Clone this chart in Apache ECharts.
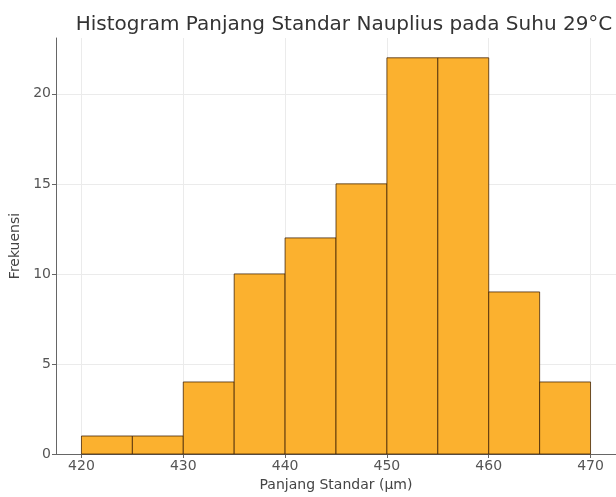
<!DOCTYPE html>
<html style="height: 100%">
<head>
	<meta charset="utf-8">
</head>
<body style="height: 100%; margin: 0; background: #fff">
<div id="container" style="width: 616px; height: 497px"></div>
<script type="text/javascript" src="https://cdn.jsdelivr.net/npm/echarts@6/dist/echarts.min.js"></script>
<script type="text/javascript">
    // bin edges (µm) and counts
    var binStarts = [420, 425, 430, 435, 440, 445, 450, 455, 460, 465];
    var binWidth = 5;
    var counts = [1, 1, 4, 10, 12, 15, 22, 22, 9, 4];
    var xTicks = [420, 430, 440, 450, 460, 470];
    var yTicks = [0, 5, 10, 15, 20];

    var data = binStarts.map(function (s, i) {
        return [s, s + binWidth, counts[i]];
    });

    var font = 'DejaVu Sans';
    var dom = document.getElementById("container");
    var myChart = echarts.init(dom);
    var option = {
        backgroundColor: '#fff',
        animation: false,
        title: {
            text: 'Histogram Panjang Standar Nauplius pada Suhu 29°C',
            left: 339,
            textAlign: 'center',
            top: 10,
            textStyle: {
                fontFamily: font,
                fontSize: 20,
                fontWeight: 'normal',
                color: '#333'
            }
        },
        grid: {
            left: 56,
            right: -5,
            top: 38,
            bottom: 38
        },
        xAxis: {
            type: 'value',
            min: 417.5,
            max: 472.5,
            name: 'Panjang Standar (µm)',
            nameLocation: 'middle',
            nameGap: 24,
            nameTextStyle: { fontFamily: font, fontSize: 14, color: '#444' },
            axisLine: { show: true, lineStyle: { color: '#666', width: 1 } },
            axisTick: { show: true, length: 4, customValues: xTicks, lineStyle: { color: '#666' } },
            axisLabel: { customValues: xTicks, fontFamily: font, fontSize: 14, color: '#555', margin: 5 },
            splitLine: { show: true, lineStyle: { color: '#ebebeb', width: 1 } }
        },
        yAxis: {
            type: 'value',
            min: 0,
            max: 23.1,
            name: 'Frekuensi',
            nameLocation: 'middle',
            nameGap: 30,
            nameTextStyle: { fontFamily: font, fontSize: 14, color: '#444' },
            axisLine: { show: true, lineStyle: { color: '#666', width: 1 } },
            axisTick: { show: true, length: 4, customValues: yTicks, lineStyle: { color: '#666' } },
            axisLabel: { customValues: yTicks, fontFamily: font, fontSize: 14, color: '#555', margin: 5 },
            splitLine: { show: true, lineStyle: { color: '#ebebeb', width: 1 } }
        },
        series: [{
            type: 'custom',
            data: data,
            encode: { x: [0, 1], y: 2 },
            renderItem: function (params, api) {
                var p0 = api.coord([api.value(0), api.value(2)]);
                var p1 = api.coord([api.value(1), 0]);
                return {
                    type: 'rect',
                    shape: { x: p0[0], y: p0[1], width: p1[0] - p0[0], height: p1[1] - p0[1] },
                    style: {
                        fill: '#fbb12f',
                        stroke: 'rgba(60,30,0,0.75)',
                        lineWidth: 1
                    }
                };
            }
        }]
    };

    if (option && typeof option === "object") {
        myChart.setOption(option, true);
    }
</script>
</body>
</html>
